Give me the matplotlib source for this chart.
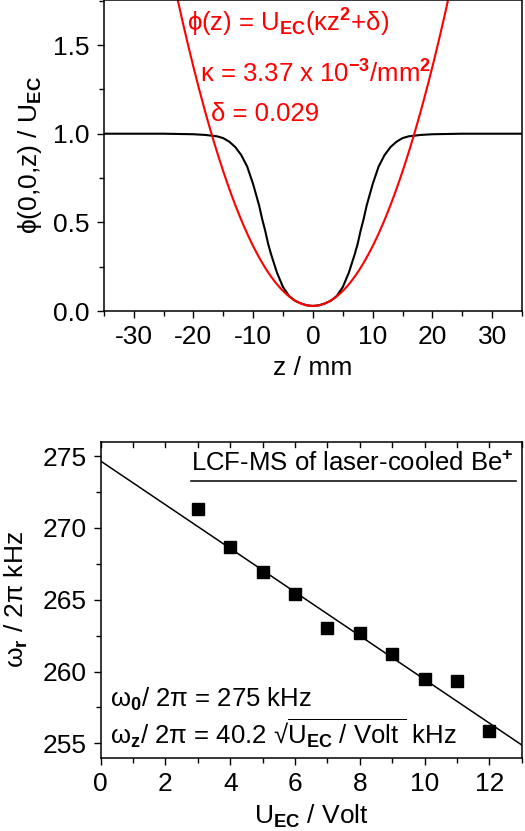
import numpy as np
import matplotlib
matplotlib.use("Agg")
import matplotlib.pyplot as plt
from matplotlib.ticker import MultipleLocator

plt.rcParams['font.family'] = ['Liberation Sans', 'DejaVu Sans']
plt.rcParams['mathtext.fontset'] = 'custom'
plt.rcParams['mathtext.rm'] = 'Liberation Sans'
plt.rcParams['mathtext.it'] = 'Liberation Sans:italic'
plt.rcParams['mathtext.bf'] = 'Liberation Sans:bold'

# ---- top panel data ----
# black curve: potential on axis (|z| half, mirrored)
z_abs = [0, 1, 2, 3, 4, 5, 6, 7, 7.5, 8, 8.5, 9, 9.5, 10, 11, 12, 13, 14, 15, 16, 18, 20, 25, 35]
phi_abs = [0.029, 0.032, 0.043, 0.058, 0.085, 0.135, 0.215, 0.32, 0.38, 0.455, 0.52, 0.595,
           0.655, 0.715, 0.815, 0.88, 0.925, 0.955, 0.975, 0.985, 0.993, 0.997, 1.0, 1.0]
# harmonic approximation parameters stated in the chart
kappa = 3.37e-3
delta = 0.029

# ---- bottom panel data ----
U_ec = [3, 4, 5, 6, 7, 8, 9, 10, 11, 12]
omega_r = [271.3, 268.7, 266.9, 265.4, 263.05, 262.66, 261.2, 259.5, 259.36, 255.88]
fit_U = [0, 13]
fit_omega = [274.65, 254.89]

FS = 19
FA = 18.5
fig = plt.figure(figsize=(5.25, 8.31), dpi=100)

# ---------------- top panel ----------------
ax1 = fig.add_axes([0.1977, 0.6257, 0.7966, 0.3743])
z_full = [-v for v in z_abs[::-1]] + z_abs[1:]
phi_full = phi_abs[::-1] + phi_abs[1:]
ax1.plot(z_full, phi_full, color='black', lw=1.5)
zz = np.linspace(-35, 35, 701)
ax1.plot(zz, kappa * zz**2 + delta, color='#ff0000', lw=1.5)
ax1.set_xlim(-35, 35)
ax1.set_ylim(0, 1.754)
ax1.xaxis.set_minor_locator(MultipleLocator(5))
ax1.yaxis.set_minor_locator(MultipleLocator(0.25))
ax1.set_xticks([-30, -20, -10, 0, 10, 20, 30])
ax1.set_xticklabels(['-30', '-20', '-10', '0', '10', '20', '30'])
ax1.set_yticks([0.0, 0.5, 1.0, 1.5])
ax1.set_yticklabels(['0.0', '0.5', '1.0', '1.5'])
ax1.tick_params(which='both', direction='out', top=False, right=False, labelsize=FS, width=1.0)
ax1.tick_params(which='major', length=5, pad=5)
ax1.tick_params(which='minor', length=3.5)
ax1.set_xlabel('z / mm', fontsize=FS, labelpad=5)
ax1.set_ylabel(r'ϕ(0,0,z) / U$_{\mathbf{EC}}$', fontsize=FS, labelpad=7)
for s in ax1.spines.values():
    s.set_linewidth(1.1)
red = '#ff0000'
ax1.text(-21.1, 1.575, r'ϕ(z) = U$_{\mathbf{EC}}$(κz$^{\mathbf{2}}$+δ)', color=red,
         fontsize=FA, ha='left', va='baseline')
ax1.text(-18.9, 1.288, r'κ = 3.37 x 10$^{\mathbf{-3}}$/mm$^{\mathbf{2}}$', color=red,
         fontsize=FA, ha='left', va='baseline')
ax1.text(-17.1, 1.073, 'δ = 0.029', color=red, fontsize=FA, ha='left', va='baseline')

# ---------------- bottom panel ----------------
ax2 = fig.add_axes([0.1918, 0.0882, 0.8019, 0.3803])
ax2.plot(fit_U, fit_omega, color='black', lw=1.1)
ax2.plot(U_ec, omega_r, ls='none', marker='s', ms=9, color='black')
ax2.set_xlim(0, 13)
ax2.set_ylim(254, 276)
ax2.xaxis.set_minor_locator(MultipleLocator(1))
ax2.yaxis.set_minor_locator(MultipleLocator(2.5))
ax2.set_xticks([0, 2, 4, 6, 8, 10, 12])
ax2.set_yticks([255, 260, 265, 270, 275])
ax2.tick_params(which='both', direction='out', top=False, right=False, labelsize=FS, width=1.0)
ax2.tick_params(which='major', length=5, pad=5)
ax2.tick_params(which='minor', length=3.5)
ax2.set_xlabel(r'U$_{\mathbf{EC}}$ / Volt', fontsize=FS, labelpad=5)
ax2.set_ylabel(r'ω$_{\mathbf{r}}$ / 2π kHz', fontsize=FS, labelpad=9)
for s in ax2.spines.values():
    s.set_linewidth(1.1)
# inward ticks along the top spine
for xv in range(0, 14):
    ax2.plot([xv, xv], [276, 275.6], color='black', lw=1.0, clip_on=False)

ax2.text(2.8, 273.96, r'LCF-MS of laser-cooled Be$^{\mathbf{+}}$', fontsize=FA,
         ha='left', va='baseline')
ax2.plot([2.8, 12.83], [273.25, 273.25], color='black', lw=1.1)
ax2.text(0.29, 257.55, r'ω$_{\mathbf{0}}$/ 2π = 275 kHz', fontsize=FA, ha='left', va='baseline')
ax2.text(0.29, 254.89,
         r'ω$_{\mathbf{z}}$/ 2π = 40.2 √$\overline{\mathrm{U}_{\mathbf{EC}}\mathrm{\ /\ Volt\ }}$ kHz',
         fontsize=FA, ha='left', va='baseline')

fig.savefig('out.png', dpi=100)
